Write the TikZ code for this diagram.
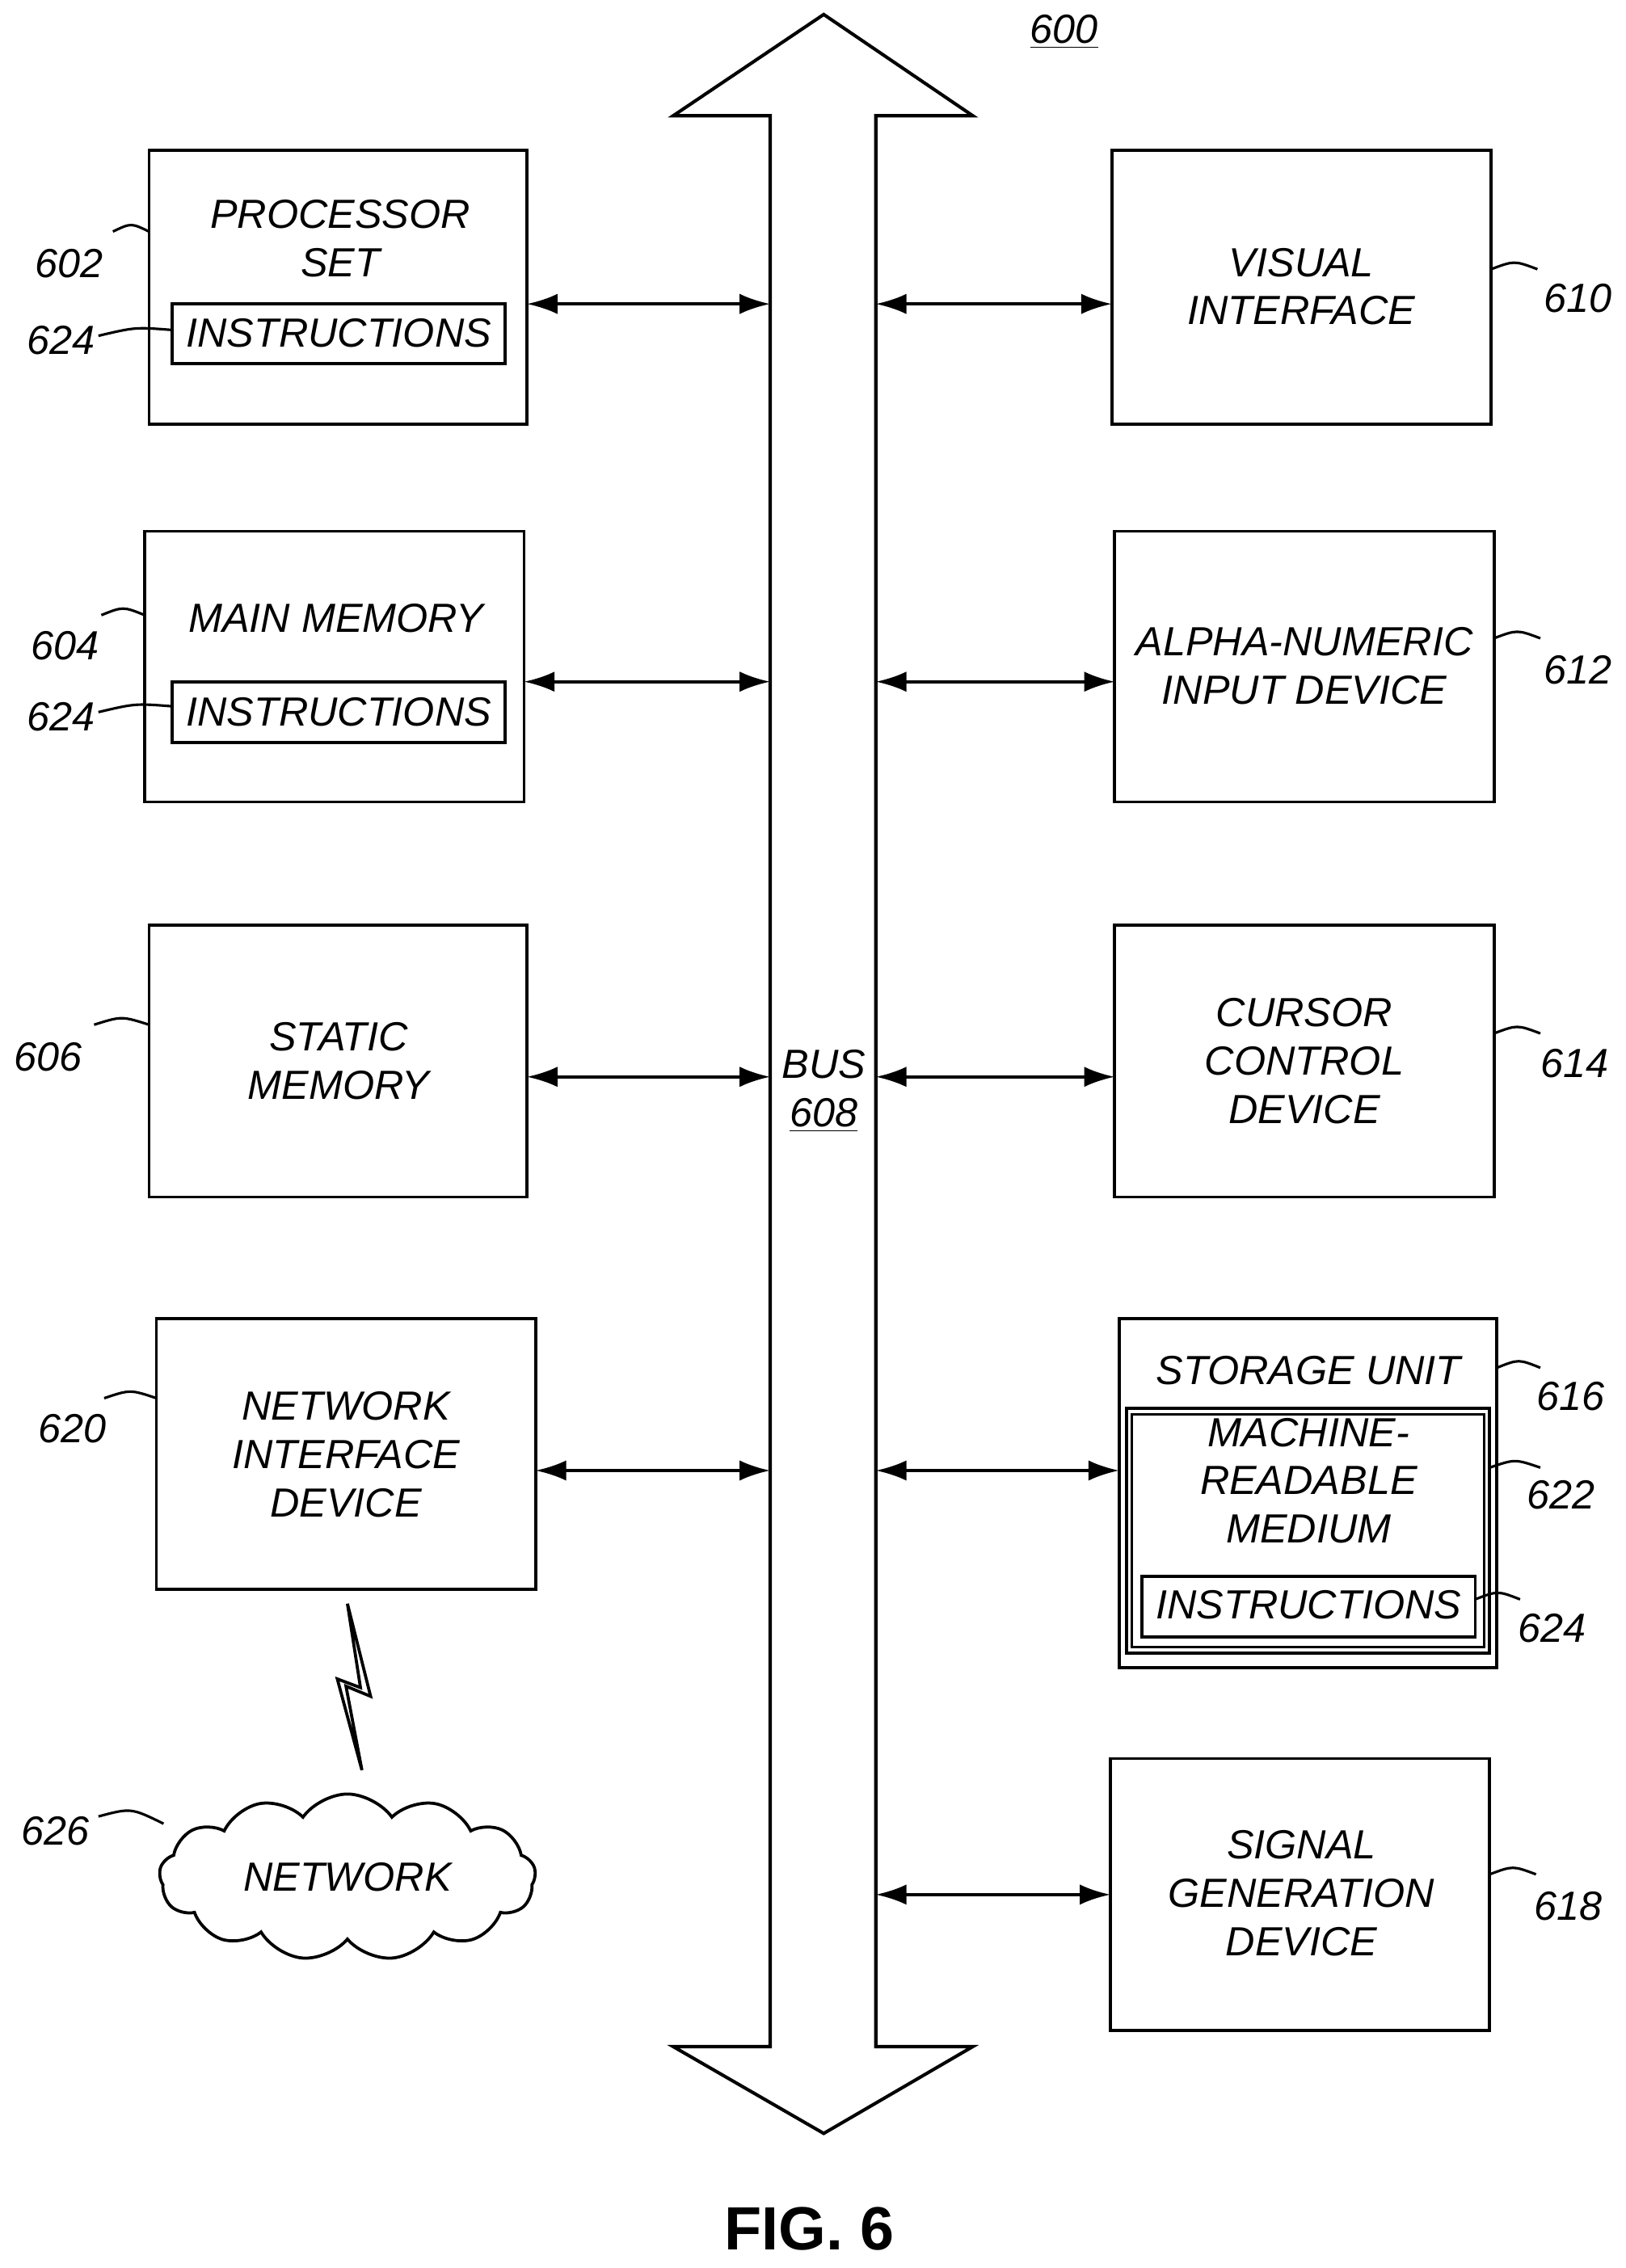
\documentclass[tikz,border=0pt]{standalone}
\usepackage{fontspec}
\setmainfont{Liberation Sans}
\usetikzlibrary{shapes.symbols,arrows.meta}
\begin{document}
\begin{tikzpicture}[x=0.02cm,y=-0.02cm,
    every node/.style={font=\fontsize{16}{19}\selectfont\itshape},
    box/.style={draw,line width=1.2pt},
    link/.style={{Latex[length=12pt,width=8pt]}-{Latex[length=12pt,width=8pt]},line width=1.2pt},
    lead/.style={line width=1pt}
  ]
  \useasboundingbox (0,0) rectangle (1123,1567);
  % Bus
  \draw[line width=1.3pt] (532,1414) -- (532,80) -- (465,80) -- (569,10) -- (672,80) -- (605,80)
    -- (605,1414) -- (672,1414) -- (569,1474) -- (465,1414) -- cycle;
  \node (bus) at (569,754) [align=center] {BUS\\\underline{608}};
  \node (fig) at (735,22) {\underline{600}};
  % left boxes
  \draw[box] (103,104) rectangle (364,293);
  \node (proc) at (235,165) [align=center] {PROCESSOR\\SET};
  \draw[box] (119,210) rectangle (349,251);
  \node (ins1) at (234,230) {INSTRUCTIONS};
  \draw[box] (100,367) rectangle (362,554);
  \node (mem) at (232,427) {MAIN MEMORY};
  \draw[box] (119,471) rectangle (349,513);
  \node (ins2) at (234,492) {INSTRUCTIONS};
  \draw[box] (103,639) rectangle (364,827);
  \node (stat) at (234,733) [align=center] {STATIC\\MEMORY};
  \draw[box] (108,911) rectangle (370,1098);
  \node (nic) at (239,1005) [align=center] {NETWORK\\INTERFACE\\DEVICE};
  \node (net) at (240,1297) [cloud,draw,line width=1.2pt,cloud puffs=13,cloud puff arc=110,
    aspect=2.2,minimum width=5.2cm,minimum height=2.3cm,inner sep=0pt] {NETWORK};
  % right boxes
  \draw[box] (768,104) rectangle (1030,293);
  \node (vis) at (899,198) [align=center] {VISUAL\\INTERFACE};
  \draw[box] (770,367) rectangle (1032,554);
  \node (alpha) at (901,460) [align=center] {ALPHA-NUMERIC\\INPUT DEVICE};
  \draw[box] (770,639) rectangle (1032,827);
  \node (cur) at (901,733) [align=center] {CURSOR\\CONTROL\\DEVICE};
  \draw[box] (773,911) rectangle (1034,1152);
  \node (stor) at (904,947) {STORAGE UNIT};
  \draw[box] (778,973) rectangle (1029,1142);
  \draw[line width=1pt] (782,977) rectangle (1025,1138);
  \node (mrm) at (904,1023) [align=center] {MACHINE-\\READABLE\\MEDIUM};
  \draw[box] (789,1089) rectangle (1019,1131);
  \node (ins3) at (904,1109) {INSTRUCTIONS};
  \draw[box] (767,1215) rectangle (1029,1403);
  \node (sig) at (899,1308) [align=center] {SIGNAL\\GENERATION\\DEVICE};
  % links
  \foreach \y/\xl/\xr in {210/364/768, 471/362/770, 744/364/770, 1016/370/773}{
    \draw[link] (\xl,\y) -- (532,\y);
    \draw[link] (605,\y) -- (\xr,\y);
  }
  \draw[link] (605,1309) -- (767,1309);
  % lightning
  \draw[line width=1.2pt,line join=miter] (240,1108) -- (256,1172) -- (239,1165) -- (250,1223)
    -- (233,1160) -- (249,1166) -- cycle;
  % reference labels
  \foreach \tx/\ty/\ax/\ay/\bx/\by/\lab in {
      48/182/78/160/103/160/602, 42/235/68/232/119/228/624,
      45/446/70/425/100/425/604, 42/495/68/492/119/488/624,
      33/730/65/708/103/708/606, 50/987/72/966/108/966/620,
      38/1265/68/1255/113/1260/626,
      1090/206/1062/186/1030/186/610, 1090/463/1064/441/1032/441/612,
      1088/735/1064/714/1032/714/614, 1085/965/1064/945/1034/945/616,
      1078/1033/1064/1014/1029/1014/622, 1072/1125/1050/1105/1019/1105/624,
      1083/1317/1061/1295/1029/1295/618}{
    \node (r\lab) at (\tx,\ty) {\lab};
    \draw[lead] (\ax,\ay) .. controls ({(\ax+\bx)/2},{\ay-6}) .. (\bx,\by);
  }
  \node (figlab) at (559,1540) {\fontsize{24}{28}\selectfont\upshape\bfseries FIG. 6};
\end{tikzpicture}
\end{document}
